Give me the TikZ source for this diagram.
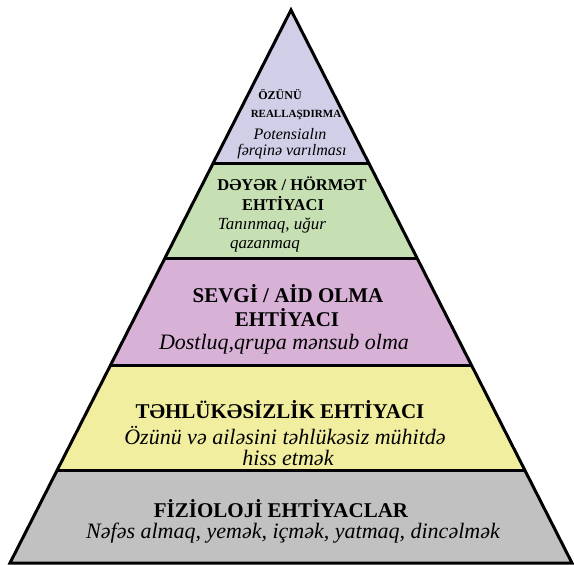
\documentclass[tikz,border=0pt]{standalone}
\usepackage{fontspec}
\setmainfont{Liberation Serif}
\definecolor{lav}{HTML}{D1CFE8}
\definecolor{grn}{HTML}{C6E0B4}
\definecolor{pnk}{HTML}{D8B2D6}
\definecolor{ylw}{HTML}{F2EEA0}
\definecolor{gry}{HTML}{C0C1C0}
\begin{document}
\begin{tikzpicture}[x=1pt,y=-1pt,line width=3pt,
  bt/.style={font=\bfseries\fontsize{#1}{#1}\selectfont,inner sep=0pt},
  it/.style={font=\itshape\fontsize{#1}{#1}\selectfont,inner sep=0pt}]
\useasboundingbox (0,0) rectangle (574,565);
\coordinate (apex) at (291,10);
\coordinate (l1) at (213.3,163); \coordinate (r1) at (368.7,163);
\coordinate (l2) at (165.0,258); \coordinate (r2) at (417.0,258);
\coordinate (l3) at (110.6,365); \coordinate (r3) at (471.4,365);
\coordinate (l4) at (57.3,470);  \coordinate (r4) at (524.7,470);
\coordinate (l5) at (10,563);    \coordinate (r5) at (572,563);
\fill[lav] (apex) -- (r1) -- (l1) -- cycle;
\fill[grn] (l1) -- (r1) -- (r2) -- (l2) -- cycle;
\fill[pnk] (l2) -- (r2) -- (r3) -- (l3) -- cycle;
\fill[ylw] (l3) -- (r3) -- (r4) -- (l4) -- cycle;
\fill[gry] (l4) -- (r4) -- (r5) -- (l5) -- cycle;
\draw[line join=miter] (apex) -- (r5) -- (l5) -- cycle;
\draw (l1) -- (r1);
\draw (l2) -- (r2);
\draw (l3) -- (r3);
\draw (l4) -- (r4);
% top
\node[bt=12] (t1) at (280,95) {ÖZÜNÜ};
\node[bt=11] (t2) at (296,115) {REALLAŞDIRMA};
\node[it=16] (t3) at (290,134) {Potensialın};
\node[it=16] (t4) at (292,152) {fərqinə varılması};
% green
\node[bt=16.5] (g1) at (292,184) {DƏYƏR / HÖRMƏT};
\node[bt=16.5] (g2) at (283,204) {EHTİYACI};
\node[it=17] (g3) at (272,226) {Tanınmaq, uğur};
\node[it=17] (g4) at (265,246) {qazanmaq};
% pink
\node[bt=21] (p1) at (288,294) {SEVGİ / AİD OLMA};
\node[bt=21] (p2) at (287,318) {EHTİYACI};
\node[it=22] (p3) at (284,344) {Dostluq,qrupa mənsub olma};
% yellow
\node[bt=21] (y1) at (280,410) {TƏHLÜKƏSİZLİK EHTİYACI};
\node[it=22] (y2) at (285,436) {Özünü və ailəsini təhlükəsiz mühitdə};
\node[it=22] (y3) at (288,458) {hiss etmək};
% gray
\node[bt=21] (f1) at (281,509) {FİZİOLOJİ EHTİYACLAR};
\node[it=22] (f2) at (293,533) {Nəfəs almaq, yemək, içmək, yatmaq, dincəlmək};
\end{tikzpicture}
\end{document}
